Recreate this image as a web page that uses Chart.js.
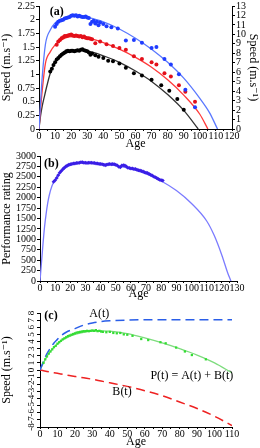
<!DOCTYPE html>
<html lang="en">
<head>
<meta charset="UTF-8">
<title>Speed and performance against age</title>
<script src="https://cdn.jsdelivr.net/npm/chart.js"></script>
<style>
    body { margin: 0; background: #fff; }
    .panel { position: absolute; left: 0; width: 260px; }
</style>
</head>
<body>

<div class="panel" style="top:0;height:150px"><canvas id="chartA" width="260" height="150"></canvas></div>
<div class="panel" style="top:150px;height:150px"><canvas id="chartB" width="260" height="150"></canvas></div>
<div class="panel" style="top:300px;height:148px"><canvas id="chartC" width="260" height="148"></canvas></div>

<script>
// ---- panel (a): speed records, three distances ----
const blueAge   = [10,11,12,13,14,15,16,17,18,19,20,21,22,23,24,25,26,27,28,29,30,31,32,33,34,35,36,37,38,40,42,45,49,54,59,64,70,73,78,82,87,91,97];
const blueSpeed = [1.87,1.92,1.96,1.98,1.99,2.00,2.02,2.03,2.04,2.05,2.07,2.08,2.07,2.08,2.06,2.07,2.06,2.05,2.05,2.06,2.04,2.03,1.92,1.96,1.98,1.93,1.96,1.90,1.95,1.92,1.88,1.86,1.84,1.62,1.63,1.58,1.48,1.50,1.28,1.18,1.00,0.72,0.40];
const redAge    = [11,12,13,14,15,16,17,18,19,20,21,22,23,24,25,26,27,28,29,30,31,32,33,35,38,42,46,50,54,59,64,70,73,78,82,87,91,97];
const redSpeed  = [1.54,1.60,1.63,1.66,1.68,1.70,1.70,1.71,1.72,1.73,1.71,1.70,1.71,1.70,1.69,1.70,1.68,1.69,1.67,1.66,1.66,1.65,1.64,1.57,1.60,1.55,1.52,1.48,1.45,1.33,1.28,1.22,1.18,1.02,0.96,0.80,0.68,0.50];
const blackAge   = [7,8,9,10,11,12,13,14,15,16,17,18,19,20,21,22,23,24,25,26,27,28,29,30,31,32,33,35,37,40,43,46,50,54,59,64,70,76,81,86,90];
const blackSpeed = [1.05,1.10,1.17,1.22,1.27,1.30,1.33,1.36,1.38,1.40,1.42,1.43,1.42,1.43,1.43,1.42,1.43,1.44,1.43,1.45,1.46,1.44,1.43,1.42,1.40,1.36,1.38,1.35,1.32,1.30,1.25,1.24,1.20,1.12,1.02,0.98,0.90,0.80,0.70,0.55,0.35];

const blueFitAge   = [0,1,2,4,7,10,14,18,22,26,30,40,50,60,70,80,90,100,106,111];
const blueFit      = [0,0.5,0.95,1.55,1.81,1.94,2.01,2.05,2.06,2.06,2.04,1.96,1.83,1.66,1.46,1.22,0.93,0.56,0.3,0];
const redFitAge    = [0,1,2,4,7,10,13,17,21,25,30,40,50,60,70,80,90,100,105];
const redFit       = [0,0.38,0.7,1.2,1.41,1.54,1.61,1.67,1.69,1.69,1.67,1.58,1.46,1.31,1.13,0.9,0.62,0.27,0];
const blackFitAge  = [0,1,2,3,5,7,10,15,20,25,30,40,50,60,70,80,90,99];
const blackFit     = [0,0.25,0.42,0.55,0.8,1.02,1.22,1.36,1.42,1.44,1.43,1.34,1.22,1.06,0.87,0.63,0.34,0];

// ---- panel (b): performance rating ----
const ratingAge = [9,10,11,12,13,14,15,16,17,18,19,20,21,22,23,24,25,26,27,28,29,30,31,32,33,34,35,36,37,38,39,40,41,42,43,44,45,46,47,48,49,50,51,52,53,54,55,56,57,58,59,60,61,62,63,64,65,66,67,68,69,70,71,72,73,74,75,76,77,78,79,80,81];
const rating    = [2380,2420,2470,2540,2600,2640,2680,2720,2750,2770,2790,2800,2810,2820,2820,2830,2830,2840,2850,2850,2840,2840,2830,2840,2840,2840,2830,2830,2820,2820,2810,2810,2800,2790,2780,2790,2800,2810,2800,2810,2800,2790,2770,2740,2730,2770,2780,2770,2750,2720,2710,2700,2700,2690,2690,2670,2660,2650,2640,2630,2610,2600,2590,2570,2550,2530,2510,2490,2470,2450,2430,2420,2410];
const ratingFitAge = [0,1,2,3,4,5,6,8,10,12,15,20,25,30,40,50,60,70,80,90,100,110,115,120,124,126];
const ratingFit    = [0,450,900,1300,1600,1850,2040,2290,2430,2540,2660,2780,2830,2840,2820,2770,2690,2570,2400,2170,1860,1440,1090,620,180,0];

// ---- panel (c): P(t) = A(t) + B(t) ----
const modelAge = [0,2,4,6,8,10,12,15,20,25,30,35,40,50,60,70,80,90,100,110];
const modelA   = [0,1.2,2.3,3.1,3.8,4.3,4.8,5.3,5.8,6.3,6.6,6.8,6.9,7.0,7.05,7.05,7.05,7.05,7.05,7.05];
const modelB   = [0,-0.1,-0.2,-0.3,-0.4,-0.45,-0.55,-0.7,-0.9,-1.1,-1.3,-1.55,-1.8,-2.3,-2.9,-3.6,-4.5,-5.4,-6.5,-7.8];
const modelP   = [0,1.0,1.9,2.6,3.2,3.6,4.1,4.5,5.0,5.3,5.45,5.5,5.45,5.1,4.5,3.8,3.0,2.1,1.0,-0.4];
const greenAge   = [2,3,4,5,6,7,8,9,10,11,12,13,14,15,16,17,18,19,20,21,22,23,24,25,26,27,28,29,30,31,32,33,34,35,36,38,40,42,44,46,48,50,53,58,62,69,72,78,83,87,95];
const greenSpeed = [1.0,1.5,1.9,2.3,2.6,2.9,3.2,3.4,3.7,3.9,4.1,4.3,4.45,4.6,4.75,4.85,4.95,5.05,5.15,5.25,5.3,5.35,5.4,5.45,5.45,5.5,5.45,5.5,5.55,5.5,5.6,5.45,5.5,5.4,5.35,5.3,5.35,5.2,5.15,5.2,5.0,4.95,4.8,4.35,4.2,3.9,3.75,3.15,2.6,2.1,1.5];

function pts(xs, ys) {
    return xs.map((x, i) => ({ x: x, y: ys[i] }));
}

Chart.defaults.font.family = "'Liberation Serif', 'DejaVu Serif', serif";
Chart.defaults.color = '#000';
Chart.defaults.animation = false;

function curve(data, color, extra) {
    return Object.assign({
        data: data, showLine: true, borderColor: color, borderWidth: 1.3,
        pointRadius: 0, tension: 0.4, cubicInterpolationMode: 'monotone', order: 2
    }, extra || {});
}
function dots(data, color, r, style) {
    return {
        data: data, showLine: false, pointRadius: r, pointStyle: style || 'circle',
        pointBackgroundColor: color, pointBorderColor: color, pointBorderWidth: 0, order: 1
    };
}

function xAxis(max, height) {
    return {
        type: 'linear', min: 0, max: max,
        border: { color: '#000', width: 1 },
        grid: { drawOnChartArea: false, color: '#000', tickLength: 2 },
        ticks: { stepSize: 5, autoSkip: false, maxRotation: 0, padding: 0, font: { size: 10, lineHeight: 1 },
                 callback: v => (v % 10 === 0 ? v : '') },
        title: { display: true, text: 'Age', font: { size: 12, lineHeight: 1 }, padding: 0 },
        afterFit: s => { s.height = height; }
    };
}
function yAxis(min, max, step, title, width, extra) {
    return Object.assign({
        type: 'linear', min: min, max: max,
        border: { color: '#000', width: 1 },
        grid: { drawOnChartArea: false, color: '#000', tickLength: 3 },
        ticks: { stepSize: step, autoSkip: false, padding: 1, font: { size: 10, lineHeight: 1 },
                 callback: v => String(+v.toFixed(2)) },
        title: { display: true, text: title, font: { size: 12 }, padding: 0 },
        afterFit: s => { s.width = width; }
    }, extra || {});
}

// text labels placed in data coordinates
const panelText = {
    id: 'panelText',
    afterDatasetsDraw(chart, args, opts) {
        const ctx = chart.ctx, x = chart.scales.x, y = chart.scales.y;
        (opts.items || []).forEach(t => {
            ctx.save();
            ctx.font = t.font;
            ctx.fillStyle = '#000';
            ctx.textAlign = 'center';
            ctx.textBaseline = 'middle';
            ctx.fillText(t.text, x.getPixelForValue(t.x), y.getPixelForValue(t.y));
            ctx.restore();
        });
    }
};

// rotated y tick labels for panel (c)
const rotatedTicks = {
    id: 'rotatedTicks',
    afterDraw(chart, args, opts) {
        if (!opts.on) return;
        const ctx = chart.ctx, s = chart.scales.y;
        ctx.save();
        ctx.font = "9px 'Liberation Serif', serif";
        ctx.fillStyle = '#000';
        ctx.textAlign = 'center';
        ctx.textBaseline = 'middle';
        s.ticks.forEach(t => {
            const py = s.getPixelForValue(t.value);
            ctx.save();
            ctx.translate(s.right - 8, py);
            ctx.rotate(-Math.PI / 2);
            ctx.fillText(String(t.value), 0, 0);
            ctx.restore();
        });
        ctx.restore();
    }
};
Chart.register(panelText, rotatedTicks);

const bold = "bold 12px 'Liberation Serif', serif";
const plain = "12px 'Liberation Serif', serif";

// (a)
new Chart(document.getElementById('chartA'), {
    type: 'scatter',
    data: { datasets: [
        curve(pts(blueFitAge, blueFit), '#5a78ff'),
        curve(pts(redFitAge, redFit), '#ff3a3a'),
        curve(pts(blackFitAge, blackFit), '#333333'),
        dots(pts(blueAge, blueSpeed), '#1f3cff', 2),
        dots(pts(redAge, redSpeed), '#e3101a', 2),
        dots(pts(blackAge, blackSpeed), '#000000', 2)
    ] },
    options: {
        responsive: false,
        layout: { padding: { top: 5, right: 0, left: 0, bottom: 0 } },
        plugins: { legend: { display: false }, tooltip: { enabled: false },
                   panelText: { items: [{ text: '(a)', x: 11, y: 2.15, font: bold }] } },
        scales: {
            x: xAxis(120, 21),
            y: yAxis(0, 2.25, 0.25, 'Speed (m.s\u207B\u00B9)', 39),
            y2: yAxis(0, 13, 1, 'Speed (m.s\u207B\u00B9)', 28, { position: 'right' })
        }
    }
});

// (b)
new Chart(document.getElementById('chartB'), {
    type: 'scatter',
    data: { datasets: [
        curve(pts(ratingFitAge, ratingFit), '#7b7bff'),
        dots(pts(ratingAge, rating), '#3a1ee6', 2, 'rectRot')
    ] },
    options: {
        responsive: false,
        layout: { padding: { top: 5, right: 23, left: 0, bottom: 0 } },
        plugins: { legend: { display: false }, tooltip: { enabled: false },
                   panelText: { items: [{ text: '(b)', x: 7.5, y: 2810, font: bold }] } },
        scales: {
            x: xAxis(130, 19),
            y: yAxis(0, 3000, 250, 'Performance rating', 40)
        }
    }
});

// (c)
new Chart(document.getElementById('chartC'), {
    type: 'scatter',
    data: { datasets: [
        curve(pts(modelAge, modelA), '#2a5ee8', { borderDash: [9, 5], borderWidth: 1.5 }),
        curve(pts(modelAge, modelB), '#ee2222', { borderDash: [9, 5], borderWidth: 1.5 }),
        curve(pts(modelAge, modelP), '#7ddc7d'),
        dots(pts(greenAge, greenSpeed), '#33dd33', 1.6, 'rect')
    ] },
    options: {
        responsive: false,
        layout: { padding: { top: 13, right: 28, left: 0, bottom: 0 } },
        plugins: { legend: { display: false }, tooltip: { enabled: false },
                   rotatedTicks: { on: true },
                   panelText: { items: [
                       { text: '(c)', x: 6.3, y: 7.6, font: bold },
                       { text: 'A(t)', x: 34, y: 7.9, font: plain },
                       { text: 'B(t)', x: 47, y: -3.1, font: plain },
                       { text: 'P(t) = A(t) + B(t)', x: 87, y: -0.85, font: plain }
                   ] } },
        scales: {
            x: xAxis(110, 21),
            y: yAxis(-8, 8, 1, 'Speed (m.s\u207B\u00B9)', 40, {
                ticks: { stepSize: 1, autoSkip: false, display: false }
            })
        }
    }
});
</script>
</body>
</html>
